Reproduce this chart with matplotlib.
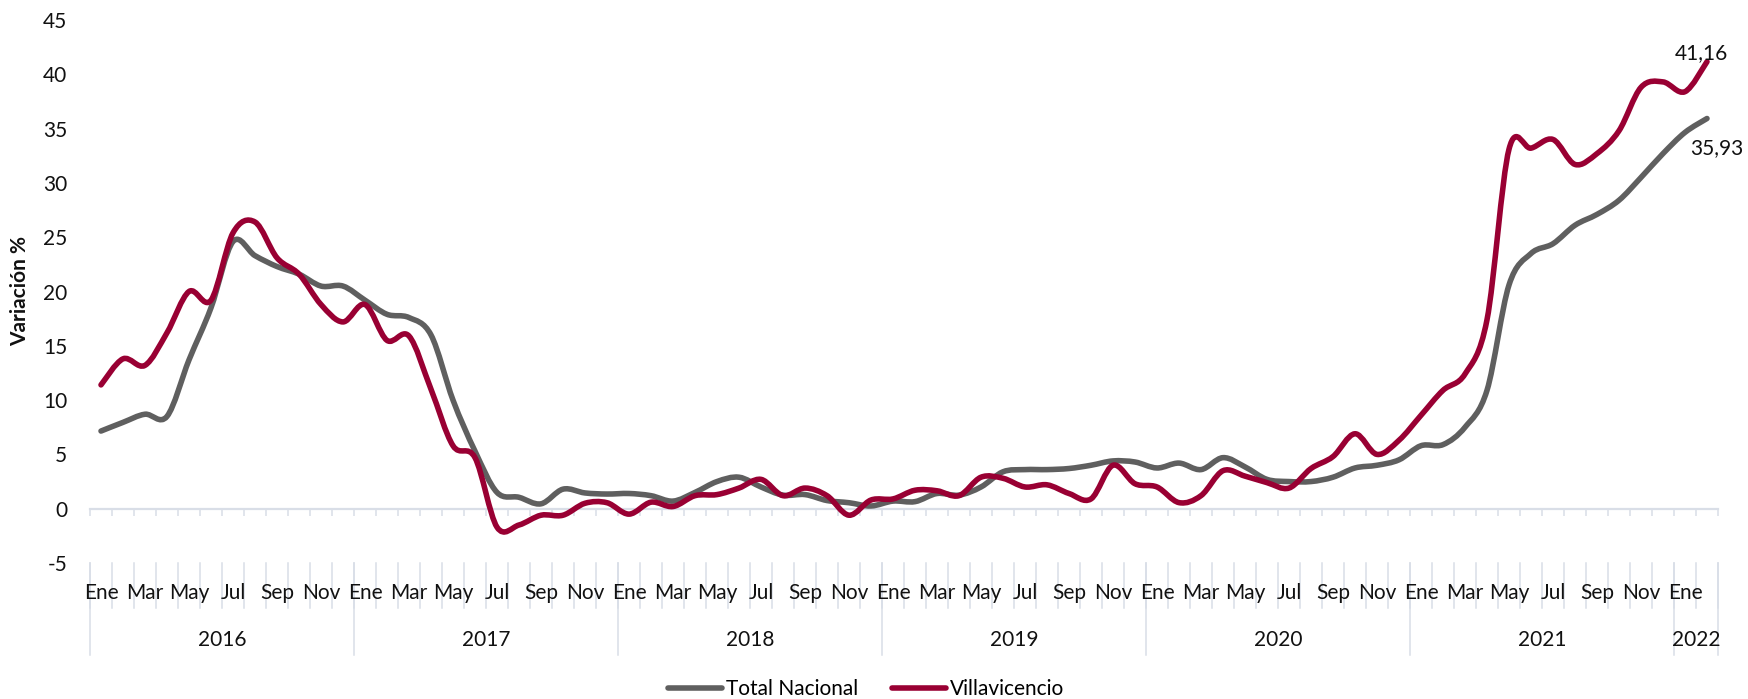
import numpy as np
import matplotlib
matplotlib.use("Agg")
import matplotlib.pyplot as plt
from matplotlib.path import Path
from matplotlib.patches import PathPatch
from matplotlib.lines import Line2D
import matplotlib.transforms as mtransforms

plt.rcParams['font.family'] = ['Lato', 'DejaVu Sans']
plt.rcParams['axes.unicode_minus'] = False

# ---------------- data ----------------
years = [2016, 2017, 2018, 2019, 2020, 2021, 2022]
month_names = ['Ene', 'Feb', 'Mar', 'Abr', 'May', 'Jun',
               'Jul', 'Ago', 'Sep', 'Oct', 'Nov', 'Dic']
n_months_last_year = 2  # Ene-Feb 2022

total_nacional = [
    7.15, 7.95, 8.7, 8.5, 13.7, 18.5, 24.6, 23.3, 22.3, 21.6, 20.5, 20.5,     # 2016
    19.2, 17.9, 17.6, 16.0, 10.0, 5.3, 1.5, 1.05, 0.45, 1.8, 1.45, 1.35,      # 2017
    1.4, 1.2, 0.7, 1.5, 2.5, 2.9, 2.0, 1.25, 1.3, 0.75, 0.55, 0.25,           # 2018
    0.7, 0.65, 1.4, 1.25, 2.0, 3.4, 3.6, 3.6, 3.7, 4.0, 4.4, 4.3,             # 2019
    3.75, 4.2, 3.6, 4.7, 3.85, 2.7, 2.5, 2.5, 2.9, 3.75, 4.0, 4.5,            # 2020
    5.8, 5.9, 7.5, 10.9, 20.6, 23.5, 24.4, 26.1, 27.1, 28.4, 30.5, 32.7,      # 2021
    34.65, 35.93,                                                             # 2022
]
villavicencio = [
    11.4, 13.8, 13.2, 16.2, 20.0, 19.2, 25.4, 26.4, 23.1, 21.6, 18.8, 17.2,   # 2016
    18.8, 15.5, 15.9, 11.0, 5.8, 4.7, -1.7, -1.5, -0.6, -0.6, 0.5, 0.55,      # 2017
    -0.5, 0.6, 0.2, 1.2, 1.3, 1.9, 2.7, 1.2, 1.9, 1.2, -0.6, 0.8,             # 2018
    0.9, 1.7, 1.65, 1.2, 2.9, 2.8, 2.0, 2.2, 1.4, 0.9, 4.0, 2.3,              # 2019
    2.0, 0.56, 1.2, 3.5, 3.0, 2.4, 1.9, 3.7, 4.8, 6.9, 5.0, 6.3,              # 2020
    8.6, 10.9, 12.4, 17.4, 33.1, 33.2, 34.0, 31.7, 32.7, 34.8, 38.8, 39.3,    # 2021
    38.4, 41.16,                                                              # 2022
]
series_names = ['Total Nacional', 'Villavicencio']
series_colors = ['#5F5F5F', '#990033']
y_ticks = [-5, 0, 5, 10, 15, 20, 25, 30, 35, 40, 45]
y_label = 'Variación %'

# build category lists
cat_month = []
cat_year = []
for y in years:
    nm = 12 if y != years[-1] else n_months_last_year
    for m in range(nm):
        cat_month.append(month_names[m])
        cat_year.append(y)
n = len(cat_month)
x = np.arange(n)


def smooth_path(xs, ys):
    pts = np.column_stack([xs, ys]).astype(float)
    m = len(pts)
    verts = [pts[0]]
    codes = [Path.MOVETO]
    for i in range(m - 1):
        p0 = pts[i - 1] if i > 0 else pts[i]
        p1 = pts[i]
        p2 = pts[i + 1]
        p3 = pts[i + 2] if i + 2 < m else pts[i + 1]
        c1 = p1 + (p2 - p0) / 6.0
        c2 = p2 - (p3 - p1) / 6.0
        verts += [c1, c2, p2]
        codes += [Path.CURVE4] * 3
    return Path(verts, codes)


FS = 15
TXT = '#111111'
W, H = 1748, 699
fig = plt.figure(figsize=(W / 100, H / 100), dpi=100)
ax_left, ax_right, ax_top, ax_bottom = 90, 1718, 20, 563
ax = fig.add_axes([ax_left / W, (H - ax_bottom) / H,
                   (ax_right - ax_left) / W, (ax_bottom - ax_top) / H])

axis_col = '#D9DEE7'
lw = 4.0
for vals, col in zip([total_nacional, villavicencio], series_colors):
    ax.add_patch(PathPatch(smooth_path(x, vals), fill=False, edgecolor=col,
                           lw=lw, capstyle='round', joinstyle='round', zorder=3))

ax.set_xlim(-0.5, n - 0.5)
ax.set_ylim(y_ticks[0], y_ticks[-1])

for s in ['top', 'right', 'left']:
    ax.spines[s].set_visible(False)
ax.spines['bottom'].set_position(('data', 0))
ax.spines['bottom'].set_color(axis_col)
ax.spines['bottom'].set_linewidth(1.6)
ax.spines['bottom'].set_zorder(1)

ax.set_xticks(np.arange(-0.5, n, 1.0))
ax.set_xticklabels([])
ax.tick_params(axis='x', direction='out', length=5, width=1.1, color=axis_col)

ax.set_yticks(y_ticks)
ax.set_yticklabels([str(v) for v in y_ticks])
ax.tick_params(axis='y', length=0, pad=16.5, labelsize=FS, labelcolor=TXT)

fig.text(20 / W, (H - 291) / H, y_label, rotation=90, ha='center', va='center',
         fontsize=FS, fontweight='bold', color=TXT)

# multi-level category axis
trans = mtransforms.blended_transform_factory(ax.transData, ax.transAxes)
ah = ax_bottom - ax_top
def yfrac(py):
    return (ax_bottom - py) / ah

for b in np.arange(-0.5, n, 1.0):
    ax.plot([b, b], [0, yfrac(608)], transform=trans, color=axis_col, lw=1.1,
            clip_on=False, zorder=1)
year_bounds = [-0.5]
for i in range(1, n):
    if cat_year[i] != cat_year[i - 1]:
        year_bounds.append(i - 0.5)
year_bounds.append(n - 0.5)
for b in year_bounds:
    ax.plot([b, b], [0, yfrac(655)], transform=trans, color=axis_col, lw=1.1,
            clip_on=False, zorder=1)

for i in range(n):
    if month_names.index(cat_month[i]) % 2 == 0:
        ax.text(x[i], yfrac(593), cat_month[i], transform=trans, ha='center',
                va='center', fontsize=FS, color=TXT)
for k in range(len(year_bounds) - 1):
    cx = (year_bounds[k] + year_bounds[k + 1]) / 2
    ax.text(cx, yfrac(640), str(years[k]), transform=trans, ha='center',
            va='center', fontsize=FS, color=TXT)

# end labels
def fmt(v):
    return f"{v:.2f}".replace('.', ',')
ax.annotate(fmt(villavicencio[-1]), (x[-1], villavicencio[-1]), xytext=(-4, 6.5),
            textcoords='offset points', ha='center', va='center', fontsize=FS,
            color=TXT, zorder=5)
ax.annotate(fmt(total_nacional[-1]), (x[-1], total_nacional[-1]), xytext=(7, -21),
            textcoords='offset points', ha='center', va='center', fontsize=FS,
            color=TXT, zorder=5)

handles = [Line2D([], [], color=c, lw=lw, solid_capstyle='round') for c in series_colors]
fig.legend(handles, series_names, loc='center', bbox_to_anchor=(866 / W, 10 / H),
           ncol=2, frameon=False, fontsize=FS, handlelength=2.6,
           handletextpad=0.2, columnspacing=1.6, borderaxespad=0, borderpad=0)

fig.savefig('out.png', dpi=100, facecolor='white')
